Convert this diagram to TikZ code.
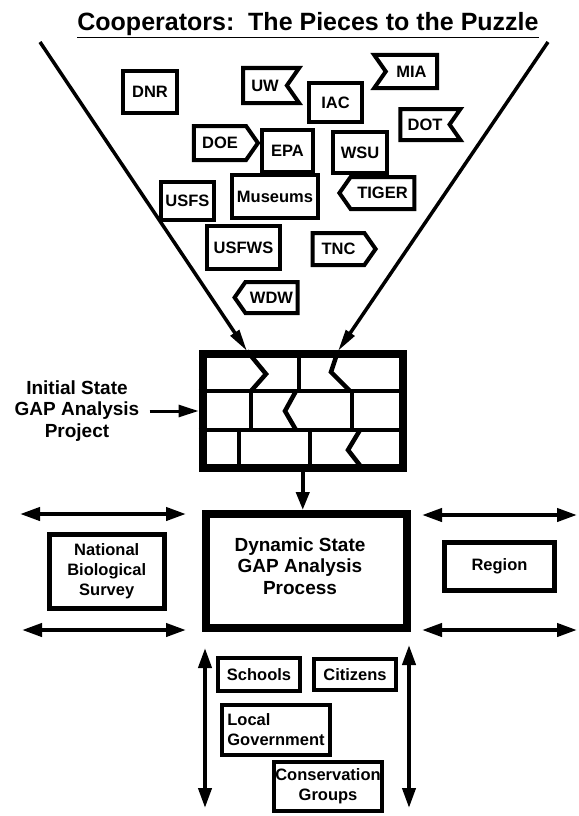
\documentclass[tikz,border=0pt]{standalone}
\usepackage{fontspec}
\setmainfont{Liberation Sans}
\usetikzlibrary{arrows.meta,shapes.symbols}

\begin{document}
\begin{tikzpicture}[
  x=1pt, y=-1pt,
  every node/.style={align=center, inner sep=0pt,
                     font=\fontsize{16.5}{20}\selectfont\bfseries},
  piece/.style 2 args={draw, line width=4pt, minimum width=#1pt, minimum height=#2pt},
  flag/.style={signal, signal pointer angle=110},
  box/.style={draw, line width=5pt},
  big/.style={font=\fontsize{19}{21.5}\selectfont\bfseries},
  funnel/.style={-{Triangle[length=22pt,width=10pt]}, line width=3.5pt},
  dbl/.style={{Triangle[length=20pt,width=13pt]}-{Triangle[length=20pt,width=13pt]}, line width=4pt},
  arr/.style={-{Triangle[length=18pt,width=13pt]}, line width=4pt},
  brick/.style={line width=4pt},
  crack/.style={line width=4.5pt, line join=miter}
]
\useasboundingbox (0,0) rectangle (578,816);

% title
\node[font=\fontsize{25}{29}\selectfont\bfseries, anchor=base] (title) at (308,31)
  {\underline{Cooperators:\ \ The Pieces to the Puzzle}};

% the pieces
\node[piece={54}{42}] (dnr) at (150,92) {DNR};
\node[piece={56}{35}, flag, signal to=nowhere, signal from=east] (uw) at (265,85.5) {UW};
\node[piece={63}{33}, flag, signal to=nowhere, signal from=west] (mia) at (411.5,71.5) {MIA};
\node[piece={53}{39}] (iac) at (335.5,102.5) {IAC};
\node[piece={60}{31}, flag, signal to=nowhere, signal from=east] (dot) at (425,124.5) {DOT};
\node[piece={64}{34}, flag, signal to=east] (doe) at (220,143) {DOE};
\node[piece={51}{42}] (epa) at (287.5,151) {EPA};
\node[piece={54}{41}] (wsu) at (360,152.5) {WSU};
\node[piece={53}{38}] (usfs) at (187.5,201) {USFS};
\node[piece={86}{43}] (mus) at (275,196.5) {Museums};
\node[piece={75}{32}, flag, signal to=west] (tiger) at (382.5,193) {TIGER};
\node[piece={73}{43}] (usfws) at (243.5,247.5) {USFWS};
\node[piece={63}{32}, flag, signal to=east] (tnc) at (338.5,249) {TNC};
\node[piece={63}{31}, flag, signal to=west] (wdw) at (271.5,297.5) {WDW};

% funnel
\coordinate (fl) at (40,42);
\coordinate (fr) at (548,42);
\coordinate (cl) at (247,351);
\coordinate (cr) at (338,351);
\draw[funnel] (fl) -- (cl);
\draw[funnel] (fr) -- (cr);

% the wall
\node[draw, line width=8pt, minimum width=200.5pt, minimum height=114.5pt] (wall) at (302.75,410.75) {};
\draw[brick] (wall.west |- 0,391) -- (wall.east |- 0,391);
\draw[brick] (wall.west |- 0,430) -- (wall.east |- 0,430);
\draw[brick] (299,353.5) -- (299,391);
\draw[brick] (251,391) -- (251,430);
\draw[brick] (352,391) -- (352,430);
\draw[brick] (239,430) -- (239,468);
\draw[brick] (310,430) -- (310,468);
\draw[crack] (cl) -- (266,374) -- (251,391);
\draw[crack] (cr) -- (331,372) -- (350,391);
\draw[crack] (296,391) -- (285,411) -- (296,430);
\draw[crack] (360,430) -- (348,450) -- (362,468);

\node[big] (init) at (77,411) {Initial State\\GAP Analysis\\Project};
\draw[-{Triangle[length=20pt,width=12pt]}, line width=3pt] ([xshift=10pt]init.east) -- (init.east -| wall.west);

% process
\node[draw, line width=8pt, minimum width=201pt, minimum height=114pt] (dyn) at (306.5,571) {};
\node[big] (dynlabel) at (300,566) {Dynamic State\\GAP Analysis\\Process};
\draw[arr] (wall.south) -- (wall.south |- dyn.north);

\node[box, minimum width=114.5pt, minimum height=73.5pt] (nbs) at (106.75,571.25) {National\\Biological\\Survey};
\node[box, minimum width=110pt, minimum height=48pt] (reg) at (499.5,566) {Region};

\coordinate (l1a) at (20,514);  \coordinate (l1b) at (186,514);
\coordinate (l2a) at (22,630);  \coordinate (l2b) at (186,630);
\coordinate (r1a) at (422,515); \coordinate (r1b) at (577,515);
\coordinate (r2a) at (422,630); \coordinate (r2b) at (577,630);
\draw[dbl] (l1a) -- (l1b);
\draw[dbl] (l2a) -- (l2b);
\draw[dbl] (r1a) -- (r1b);
\draw[dbl] (r2a) -- (r2b);

% local partners
\node[box, line width=4pt, minimum width=82pt, minimum height=33pt] (sch) at (259,674.5) {Schools};
\node[box, line width=4pt, minimum width=82pt, minimum height=31pt] (cit) at (355,674.5) {Citizens};
\node[box, line width=4pt, minimum width=108pt, minimum height=50pt, align=left] (lg) at (276,730) {Local\\Government};
\node[box, line width=4pt, minimum width=108pt, minimum height=49pt] (cg) at (328,786.5) {Conservation\\Groups};

\coordinate (b1a) at (205,648); \coordinate (b1b) at (205,808);
\coordinate (b2a) at (409,645); \coordinate (b2b) at (409,808);
\draw[dbl] (b1a) -- (b1b);
\draw[dbl] (b2a) -- (b2b);
\end{tikzpicture}
\end{document}
